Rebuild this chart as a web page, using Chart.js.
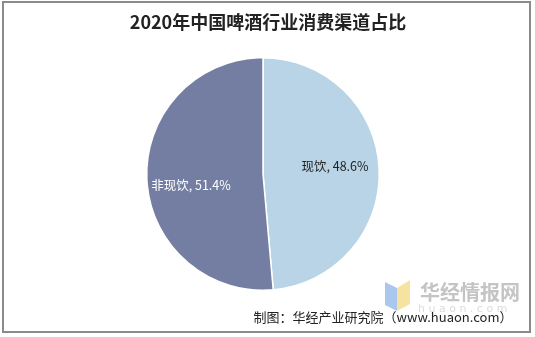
<!DOCTYPE html>
<html>
<head>
<meta charset="utf-8">
<script src="https://cdn.jsdelivr.net/npm/chart.js@4"></script>
<style>
  html, body { margin: 0; padding: 0; background: #fff; }
  #wrap { width: 535px; height: 337px; position: relative; }
</style>
</head>
<body>
<div id="wrap"><canvas id="pieChart" width="535" height="337"></canvas></div>
<script>
// 消费渠道占比数据
const categories = ['现饮', '非现饮'];
const shares = [48.6, 51.4];
const sliceColors = ['#b8d4e6', '#737ea2'];
const labelColors = ['#222222', '#ffffff'];

const chartTitle = '2020年中国啤酒行业消费渠道占比';
const sourceText = '制图：华经产业研究院（www.huaon.com）';

// draws frame, title, source, watermark and the slice labels
const decorPlugin = {
  id: 'decor',
  beforeDraw(chart) {
    const c = chart.ctx;
    c.save();
    c.fillStyle = '#fff';
    c.fillRect(0, 0, chart.width, chart.height);
    c.strokeStyle = '#8a8a8a';
    c.lineWidth = 2;
    c.strokeRect(3, 2, 527, 330);
    // watermark
    c.fillStyle = '#a9c7ef';
    c.beginPath();
    c.moveTo(385, 282); c.lineTo(397, 288); c.lineTo(397, 311); c.lineTo(385, 305);
    c.closePath(); c.fill();
    c.fillStyle = '#f6e3a0';
    c.beginPath();
    c.moveTo(397, 288); c.lineTo(410, 280); c.lineTo(410, 304); c.lineTo(397, 311);
    c.closePath(); c.fill();
    c.fillStyle = '#c4c4c4';
    c.font = 'bold 20px "Noto Sans CJK SC"';
    c.textAlign = 'left';
    c.textBaseline = 'middle';
    c.fillText('华经情报网', 420, 292);
    c.fillStyle = '#dcdcdc';
    c.font = '11px "DejaVu Sans"';
    c.fillText('h u a o n . c o m', 418, 309);
    c.restore();
  },
  afterDraw(chart) {
    const c = chart.ctx;
    c.save();
    c.textAlign = 'center';
    c.textBaseline = 'middle';
    c.fillStyle = '#222';
    c.font = 'bold 18px "Noto Sans CJK SC"';
    c.fillText(chartTitle, 268, 22);
    c.font = '13px "Noto Sans CJK SC"';
    c.fillText(sourceText, 383, 317);
    // slice labels
    const meta = chart.getDatasetMeta(0);
    c.font = '12.5px "Noto Sans CJK SC"';
    meta.data.forEach((arc, i) => {
      const mid = (arc.startAngle + arc.endAngle) / 2;
      const r = arc.outerRadius * 0.62;
      const x = arc.x + Math.cos(mid) * r;
      const y = arc.y + Math.sin(mid) * r + (i === 0 ? -5 : 8);
      c.fillStyle = labelColors[i];
      c.fillText(categories[i] + ', ' + shares[i].toFixed(1) + '%', x, y);
    });
    c.restore();
  }
};

new Chart(document.getElementById('pieChart'), {
  type: 'pie',
  data: {
    labels: categories,
    datasets: [{
      data: shares,
      backgroundColor: sliceColors,
      borderColor: '#ffffff',
      borderWidth: 1.5
    }]
  },
  options: {
    responsive: false,
    animation: false,
    layout: { padding: { left: 146, right: 155, top: 57, bottom: 46 } },
    plugins: {
      legend: { display: false },
      tooltip: { enabled: false }
    }
  },
  plugins: [decorPlugin]
});
</script>
</body>
</html>
